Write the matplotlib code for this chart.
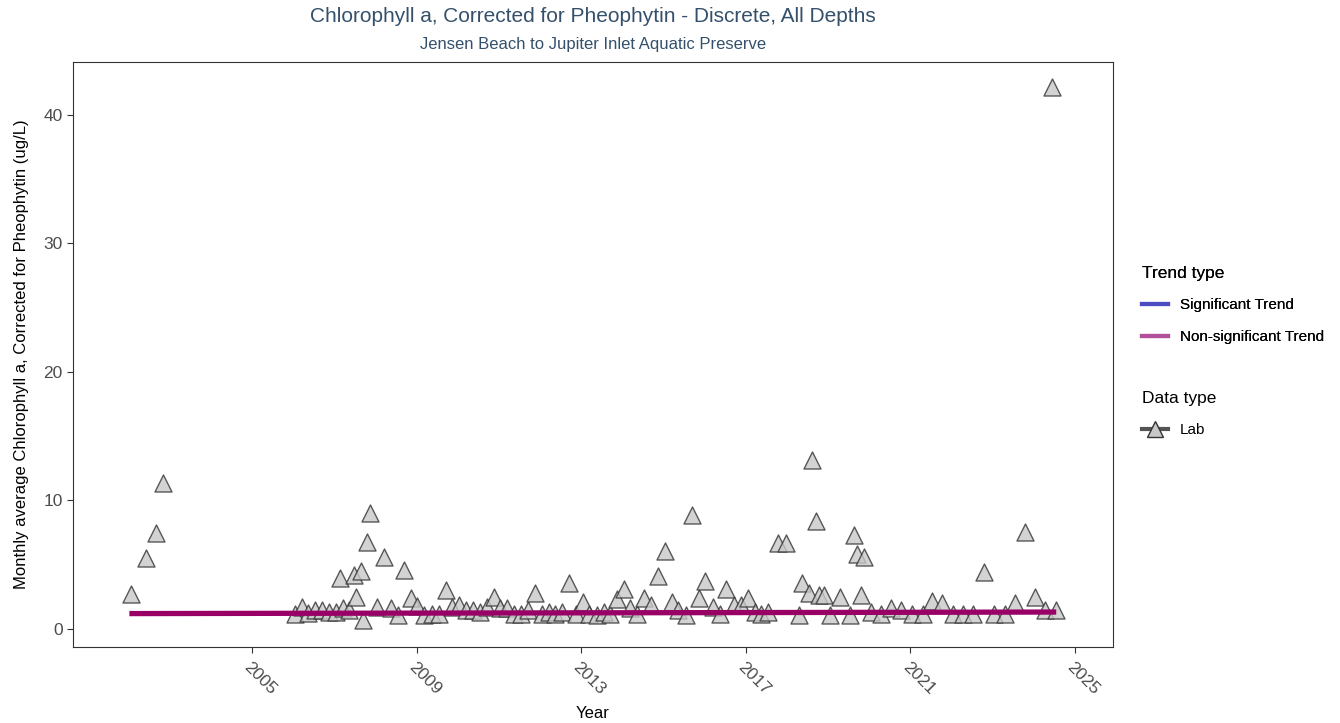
import matplotlib
matplotlib.use("Agg")
import matplotlib.pyplot as plt
from matplotlib.lines import Line2D

plt.rcParams['font.family'] = ['Liberation Sans', 'DejaVu Sans']

# ---- data ----
years = [2002.05, 2002.42, 2002.67, 2002.84,
         2006.05, 2006.21, 2006.37, 2006.53, 2006.70, 2006.88, 2007.05, 2007.13,
         2007.22, 2007.35, 2007.48, 2007.54, 2007.65, 2007.71, 2007.79, 2007.87,
         2008.05, 2008.21, 2008.37, 2008.55, 2008.70, 2008.87, 2009.02, 2009.19,
         2009.37, 2009.55, 2009.71, 2009.86, 2010.04, 2010.20, 2010.37, 2010.55,
         2010.71, 2010.89, 2011.04, 2011.21, 2011.38, 2011.54, 2011.70, 2011.87,
         2012.05, 2012.21, 2012.37, 2012.54, 2012.71, 2012.88, 2013.04, 2013.20,
         2013.38, 2013.55, 2013.70, 2013.87, 2014.04, 2014.20, 2014.36, 2014.52,
         2014.71, 2014.87, 2015.03, 2015.20, 2015.36, 2015.54, 2015.70, 2015.86,
         2016.02, 2016.20, 2016.37, 2016.53, 2016.71, 2016.89, 2017.05, 2017.22,
         2017.38, 2017.54, 2017.78, 2017.97, 2018.29, 2018.36, 2018.53, 2018.61,
         2018.70, 2018.78, 2018.90, 2019.04, 2019.29, 2019.53, 2019.63, 2019.70,
         2019.80, 2019.88, 2020.04, 2020.28, 2020.54, 2020.78, 2021.04, 2021.30,
         2021.54, 2021.78, 2022.04, 2022.29, 2022.53, 2022.80, 2023.04, 2023.30,
         2023.54, 2023.79, 2024.04, 2024.28, 2024.45, 2024.54]
values = [2.7, 5.5, 7.5, 11.4,
          1.15, 1.7, 1.25, 1.5, 1.5, 1.35, 1.35, 3.95,
          1.6, 1.5, 4.2, 2.5, 4.5, 0.7, 6.8, 9.0,
          1.7, 5.6, 1.6, 1.1, 4.6, 2.45, 1.8, 1.1,
          1.2, 1.2, 3.0, 1.75, 1.87, 1.5, 1.5, 1.35,
          1.75, 2.5, 1.6, 1.6, 1.2, 1.2, 1.5, 2.8,
          1.2, 1.35, 1.2, 1.35, 3.55, 1.2, 2.1, 1.2,
          1.1, 1.35, 1.2, 2.3, 3.1, 1.6, 1.2, 2.4,
          1.87, 4.1, 6.1, 2.1, 1.5, 1.1, 8.87, 2.4,
          3.7, 1.75, 1.2, 3.1, 1.87, 1.87, 2.45, 1.35,
          1.2, 1.35, 6.7, 6.67, 1.1, 3.55, 2.8, 13.15,
          8.4, 2.65, 2.65, 1.1, 2.5, 1.1, 7.3, 5.8,
          2.65, 5.6, 1.35, 1.2, 1.6, 1.5, 1.2, 1.2,
          2.2, 2.0, 1.2, 1.2, 1.2, 4.46, 1.2, 1.2,
          2.0, 7.57, 2.5, 1.5, 42.2, 1.5]
trend_years = [2002.02, 2024.55]
trend_values = [1.2, 1.32]
x_ticks = [2005, 2009, 2013, 2017, 2021, 2025]
y_ticks = [0, 10, 20, 30, 40]

title = "Chlorophyll a, Corrected for Pheophytin - Discrete, All Depths"
subtitle = "Jensen Beach to Jupiter Inlet Aquatic Preserve"

fig = plt.figure(figsize=(13.4, 7.23), dpi=100)
ax = fig.add_axes([73/1340, 1-647/723, (1113-73)/1340, (647-62)/723])

ax.scatter(years, values, marker='^', s=150, facecolor='#c8c8c8',
           edgecolor='#333333', linewidth=1.0, alpha=0.8, zorder=3)
ax.plot(trend_years, trend_values, color='#990066', lw=3.8, zorder=4,
        solid_capstyle='butt')

ax.set_xlim(2000.65, 2025.93)
ax.set_ylim(-1.40, 44.12)
ax.set_xticks(x_ticks)
ax.set_xticklabels([str(t) for t in x_ticks], rotation=-45, ha='left',
                   va='top', rotation_mode='anchor')
ax.set_yticks(y_ticks)
ax.tick_params(axis='both', colors='#333333', labelcolor='#4d4d4d',
               labelsize=12.5, length=4, width=0.8, direction='out')
ax.tick_params(axis='x', pad=5)
for sp in ax.spines.values():
    sp.set_color('#333333')
    sp.set_linewidth(0.8)

ax.set_xlabel('Year', fontsize=12, color='black', labelpad=6)
ax.set_ylabel('Monthly average Chlorophyll a, Corrected for Pheophytin (ug/L)',
              fontsize=12, color='black', labelpad=10)

fig.text(593/1340, 1-17/723, title, ha='center', va='center',
         fontsize=15, color='#34506b')
fig.text(593/1340, 1-44/723, subtitle, ha='center', va='center',
         fontsize=12, color='#34506b')

# legends
trend_handles = [Line2D([0], [0], color='#4b4bc2', lw=3),
                 Line2D([0], [0], color='#b24f9b', lw=3)]
leg1 = fig.legend(trend_handles, ['Significant Trend', 'Non-significant Trend'],
                  title='Trend type', loc='upper left',
                  bbox_to_anchor=(1128/1340, 1-252/723), frameon=False,
                  fontsize=11, title_fontsize=12.5, alignment='left',
                  handlelength=1.7, handletextpad=0.8, labelspacing=1.15)
data_handles = [Line2D([0], [0], color='#555555', lw=3, marker='^', ms=11,
                       markerfacecolor='#c8c8c8', markeredgecolor='#333333')]
leg2 = fig.legend(data_handles, ['Lab'], title='Data type', loc='upper left',
                  bbox_to_anchor=(1128/1340, 1-377/723), frameon=False,
                  fontsize=11, title_fontsize=12.5, alignment='left',
                  handlelength=1.7, handletextpad=0.8, labelspacing=1.15)
fig.add_artist(leg1)

fig.savefig('out.png', dpi=100)
